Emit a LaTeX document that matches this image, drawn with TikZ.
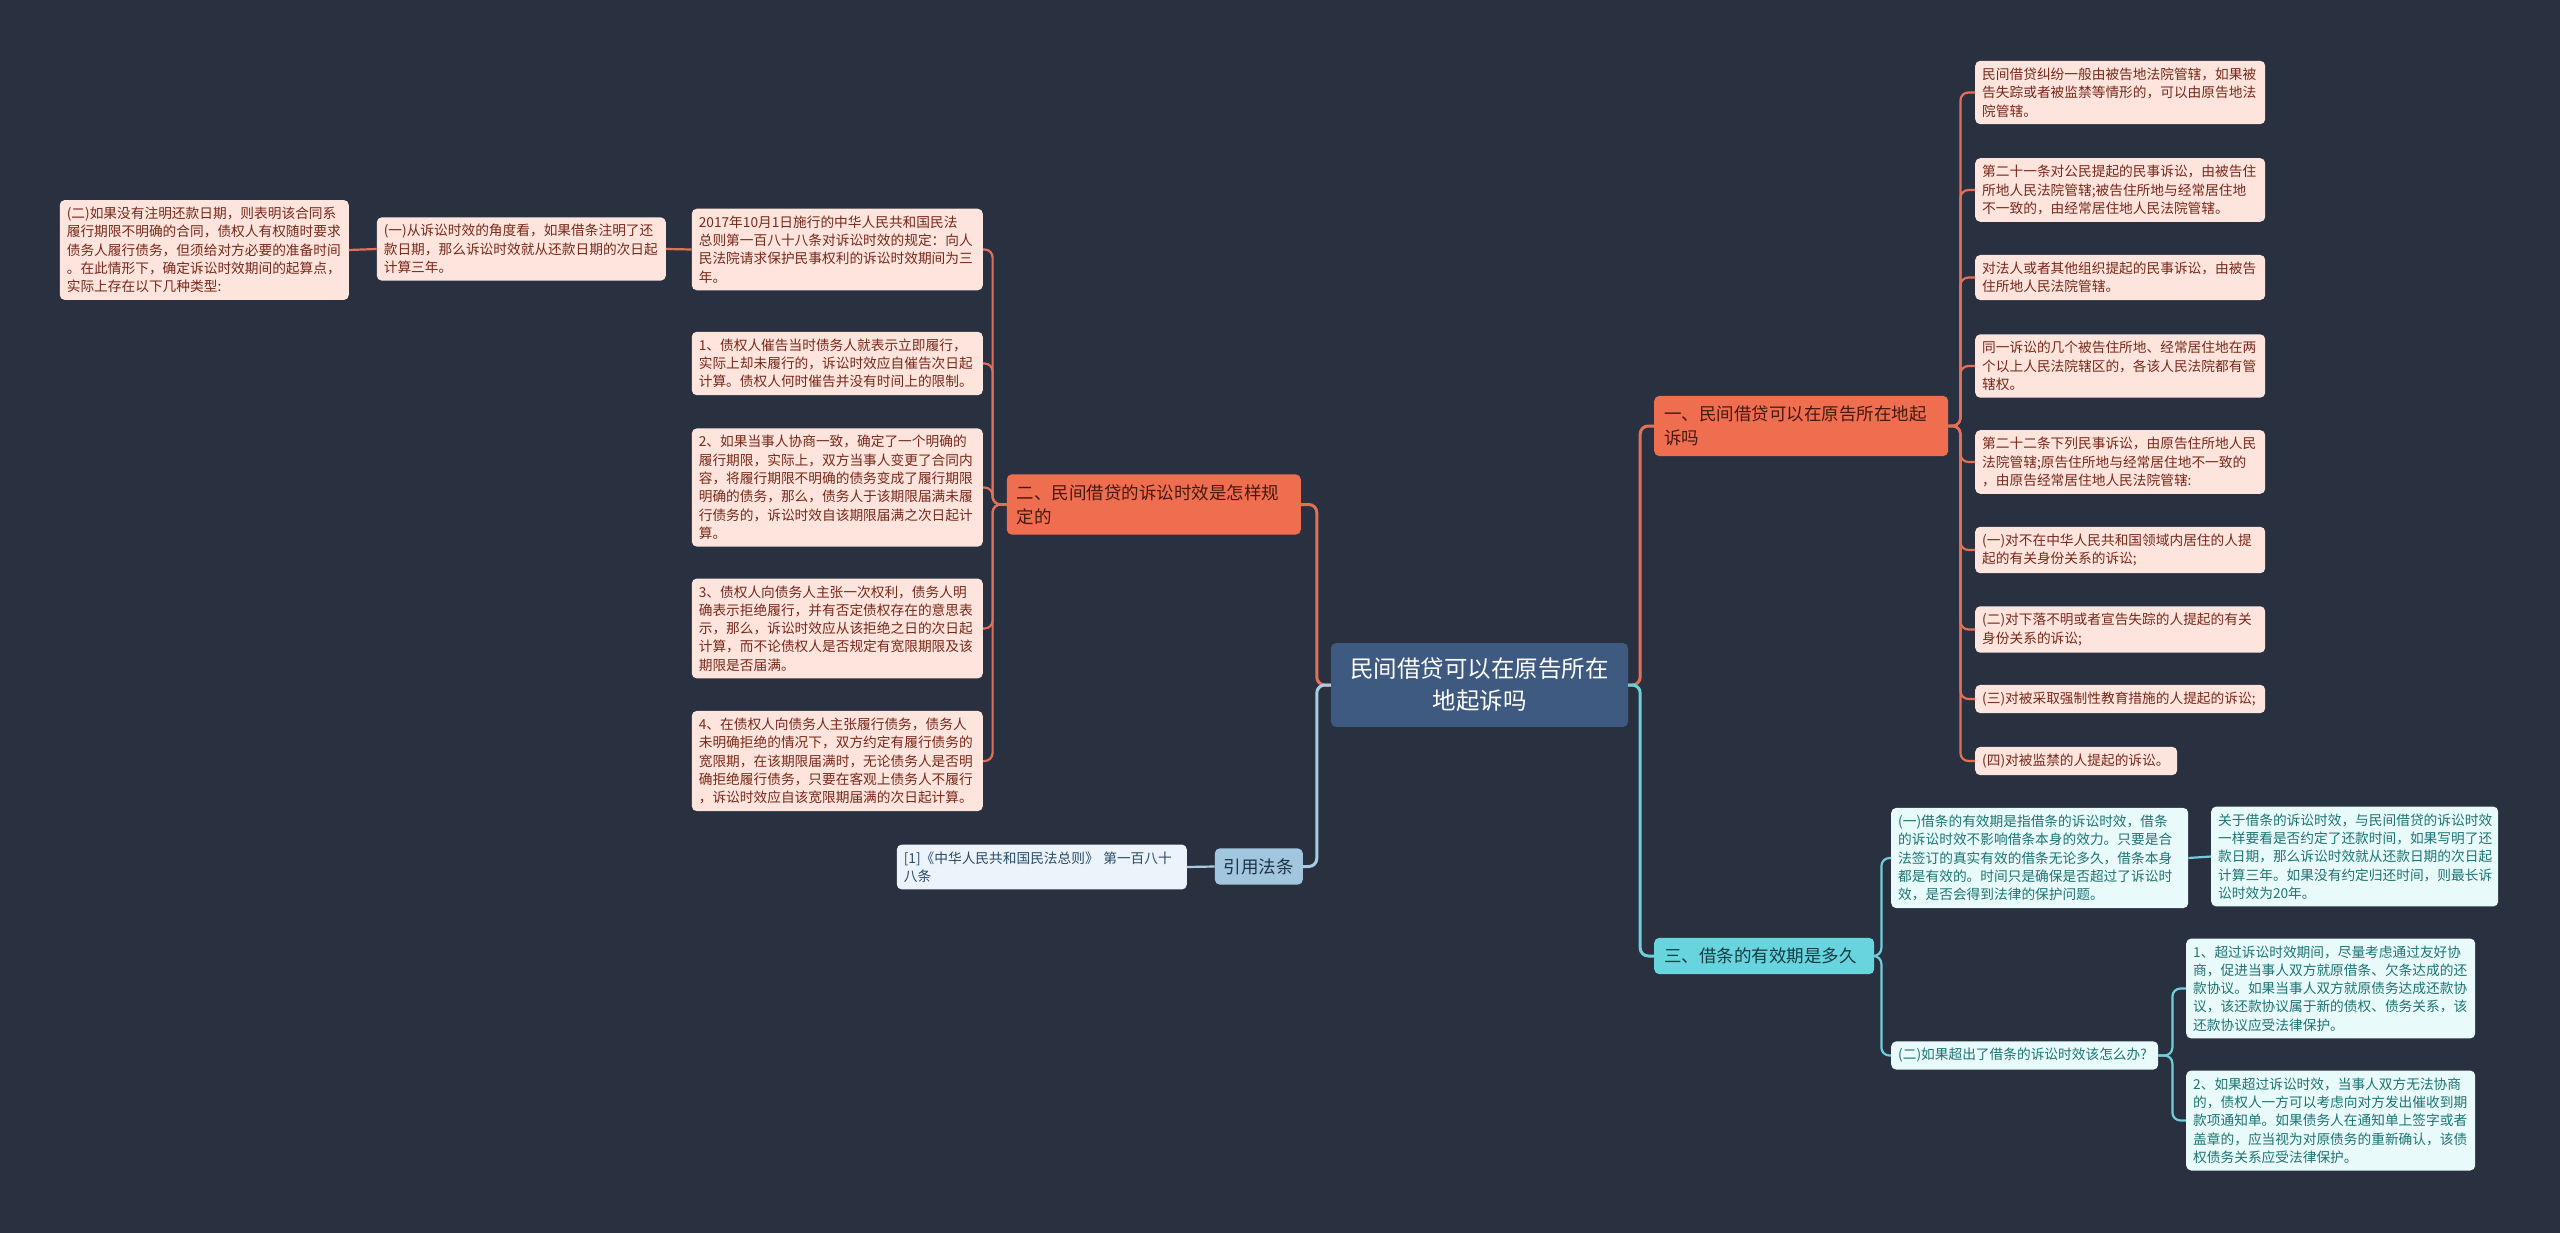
\documentclass[tikz,border=0pt]{standalone}
\usepackage{fontspec}
\setmainfont{Noto Sans CJK SC}
\usetikzlibrary{positioning,calc}
\definecolor{MapBg}{RGB}{41,49,64}
\definecolor{RootFill}{RGB}{62,90,128}
\definecolor{OrangeFill}{RGB}{239,110,80}
\definecolor{OrangeText}{RGB}{70,25,15}
\definecolor{PinkFill}{RGB}{253,229,222}
\definecolor{PinkText}{RGB}{120,40,25}
\definecolor{OrangeLink}{RGB}{226,112,88}
\definecolor{TealFill}{RGB}{104,212,222}
\definecolor{TealText}{RGB}{20,60,70}
\definecolor{IceFill}{RGB}{232,250,250}
\definecolor{IceText}{RGB}{30,115,115}
\definecolor{TealLink}{RGB}{112,206,218}
\definecolor{SkyFill}{RGB}{162,198,222}
\definecolor{SkyText}{RGB}{30,50,70}
\definecolor{MistFill}{RGB}{236,243,250}
\definecolor{MistText}{RGB}{40,75,105}
\definecolor{SkyLink}{RGB}{168,204,228}
\tikzset{
  root/.style={rounded corners=5pt,fill=RootFill,text=white,align=center,
    minimum width=297pt,inner ysep=15pt,font=\fontsize{23.5}{32}\selectfont},
  topic/.style={rounded corners=5pt,inner xsep=10pt,inner ysep=10pt,align=left,
    font=\fontsize{17.5}{24}\selectfont},
  leaf/.style={rounded corners=5pt,inner xsep=7pt,inner ysep=7pt,align=left,
    text width=276pt,font=\fontsize{13.7}{18.3}\selectfont},
  topicO/.style={topic,fill=OrangeFill,text=OrangeText,text width=274pt},
  leafO/.style={leaf,fill=PinkFill,text=PinkText},
  leafT/.style={leaf,fill=IceFill,text=IceText},
  leafB/.style={leaf,fill=MistFill,text=MistText},
  bigwire/.style={line width=3pt,rounded corners=8pt},
  wire/.style={line width=2.2pt,rounded corners=8pt},
}

\begin{document}
\begin{tikzpicture}[x=1pt,y=-1pt]
\fill[MapBg] (0,0) rectangle (2560,1233);
\useasboundingbox (0,0) rectangle (2560,1233);

\node[root] (root) at (1479.5,685) {民间借贷可以在原告所在\\地起诉吗};

\node[topicO,anchor=west] (b1) at (1654,426) {一、民间借贷可以在原告所在地起\\诉吗};
\node[topicO,anchor=east] (b2) at (1301,504.5) {二、民间借贷的诉讼时效是怎样规\\定的};
\node[topic,fill=TealFill,text=TealText,anchor=west,text width=200pt] (b3) at (1654,956) {三、借条的有效期是多久};
\node[topic,fill=SkyFill,text=SkyText,anchor=east,inner xsep=9pt] (b4) at (1303,866.5) {引用法条};

\node[leafO,anchor=west] (l1) at (1975,92.5) {民间借贷纠纷一般由被告地法院管辖，如果被\\告失踪或者被监禁等情形的，可以由原告地法\\院管辖。};
\node[leafO,anchor=west] (l2) at (1975,190) {第二十一条对公民提起的民事诉讼，由被告住\\所地人民法院管辖;被告住所地与经常居住地\\不一致的，由经常居住地人民法院管辖。};
\node[leafO,anchor=west] (l3) at (1975,277.5) {对法人或者其他组织提起的民事诉讼，由被告\\住所地人民法院管辖。};
\node[leafO,anchor=west] (l4) at (1975,366) {同一诉讼的几个被告住所地、经常居住地在两\\个以上人民法院辖区的，各该人民法院都有管\\辖权。};
\node[leafO,anchor=west] (l5) at (1975,462) {第二十二条下列民事诉讼，由原告住所地人民\\法院管辖;原告住所地与经常居住地不一致的\\，由原告经常居住地人民法院管辖:};
\node[leafO,anchor=west] (l6) at (1975,550) {(一)对不在中华人民共和国领域内居住的人提\\起的有关身份关系的诉讼;};
\node[leafO,anchor=west] (l7) at (1975,629.5) {(二)对下落不明或者宣告失踪的人提起的有关\\身份关系的诉讼;};
\node[leafO,anchor=west] (l8) at (1975,699) {(三)对被采取强制性教育措施的人提起的诉讼;};
\node[leafO,anchor=west,text width=188pt] (l9) at (1975,761) {(四)对被监禁的人提起的诉讼。};

\node[leafO,anchor=east,text width=277pt] (a0) at (983,249.5) {2017年10月1日施行的中华人民共和国民法\\总则第一百八十八条对诉讼时效的规定：向人\\民法院请求保护民事权利的诉讼时效期间为三\\年。};
\node[leafO,anchor=east,text width=277pt] (a1) at (983,363.5) {1、债权人催告当时债务人就表示立即履行，\\实际上却未履行的，诉讼时效应自催告次日起\\计算。债权人何时催告并没有时间上的限制。};
\node[leafO,anchor=east,text width=277pt] (a2) at (983,487.5) {2、如果当事人协商一致，确定了一个明确的\\履行期限，实际上，双方当事人变更了合同内\\容，将履行期限不明确的债务变成了履行期限\\明确的债务，那么，债务人于该期限届满未履\\行债务的，诉讼时效自该期限届满之次日起计\\算。};
\node[leafO,anchor=east,text width=277pt] (a3) at (983,628.5) {3、债权人向债务人主张一次权利，债务人明\\确表示拒绝履行，并有否定债权存在的意思表\\示，那么，诉讼时效应从该拒绝之日的次日起\\计算，而不论债权人是否规定有宽限期限及该\\期限是否届满。};
\node[leafO,anchor=east,text width=277pt] (a4) at (983,761) {4、在债权人向债务人主张履行债务，债务人\\未明确拒绝的情况下，双方约定有履行债务的\\宽限期，在该期限届满时，无论债务人是否明\\确拒绝履行债务，只要在客观上债务人不履行\\，诉讼时效应自该宽限期届满的次日起计算。};
\node[leafO,anchor=east,text width=275pt] (a00) at (666,249) {(一)从诉讼时效的角度看，如果借条注明了还\\款日期，那么诉讼时效就从还款日期的次日起\\计算三年。};
\node[leafO,anchor=east,text width=275pt] (a000) at (349,250) {(二)如果没有注明还款日期，则表明该合同系\\履行期限不明确的合同，债权人有权随时要求\\债务人履行债务，但须给对方必要的准备时间\\。在此情形下，确定诉讼时效期间的起算点，\\实际上存在以下几种类型:};

\node[leafT,anchor=west,text width=283pt] (c1) at (1891,858) {(一)借条的有效期是指借条的诉讼时效，借条\\的诉讼时效不影响借条本身的效力。只要是合\\法签订的真实有效的借条无论多久，借条本身\\都是有效的。时间只是确保是否超过了诉讼时\\效，是否会得到法律的保护问题。};
\node[leafT,anchor=west,text width=273pt] (c1c) at (2211,856.5) {关于借条的诉讼时效，与民间借贷的诉讼时效\\一样要看是否约定了还款时间，如果写明了还\\款日期，那么诉讼时效就从还款日期的次日起\\计算三年。如果没有约定归还时间，则最长诉\\讼时效为20年。};
\node[leafT,anchor=west,text width=253pt] (c2) at (1891,1055.5) {(二)如果超出了借条的诉讼时效该怎么办?};
\node[leafT,anchor=west,text width=275pt] (c2a) at (2186,988.5) {1、超过诉讼时效期间，尽量考虑通过友好协\\商，促进当事人双方就原借条、欠条达成的还\\款协议。如果当事人双方就原债务达成还款协\\议，该还款协议属于新的债权、债务关系，该\\还款协议应受法律保护。};
\node[leafT,anchor=west,text width=275pt] (c2b) at (2186,1120.5) {2、如果超过诉讼时效，当事人双方无法协商\\的，债权人一方可以考虑向对方发出催收到期\\款项通知单。如果债务人在通知单上签字或者\\盖章的，应当视为对原债务的重新确认，该债\\权债务关系应受法律保护。};

\node[leafB,anchor=east] (d1) at (1187,867) {[1]《中华人民共和国民法总则》 第一百八十\\八条};

\draw[bigwire,OrangeLink] (root.east) -- ++(12,0) |- (b1.west);
\draw[bigwire,TealLink] (root.east) -- ++(12,0) |- (b3.west);
\draw[bigwire,OrangeLink] (root.west) -- ++(-14,0) |- (b2.east);
\draw[bigwire,SkyLink] (root.west) -- ++(-14,0) |- (b4.east);

\foreach \n in {l1,l2,l3,l4,l5,l6,l7,l8,l9}
  \draw[wire,OrangeLink] (b1.east) -- ++(12,0) |- (\n.west);
\foreach \n in {a0,a1,a2,a3,a4}
  \draw[wire,OrangeLink] (b2.west) -- ++(-14,0) |- (\n.east);
\draw[wire,OrangeLink] (a0.west) -- (a00.east);
\draw[wire,OrangeLink] (a00.west) -- (a000.east);

\draw[wire,TealLink] (b3.east) -- ++(7,0) |- (c1.west);
\draw[wire,TealLink] (b3.east) -- ++(7,0) |- (c2.west);
\draw[wire,TealLink] (c1.east) -- (c1c.west);
\draw[wire,TealLink] (c2.east) -- ++(14,0) |- (c2a.west);
\draw[wire,TealLink] (c2.east) -- ++(14,0) |- (c2b.west);

\draw[wire,SkyLink] (b4.west) -- (d1.east);
\end{tikzpicture}
\end{document}
